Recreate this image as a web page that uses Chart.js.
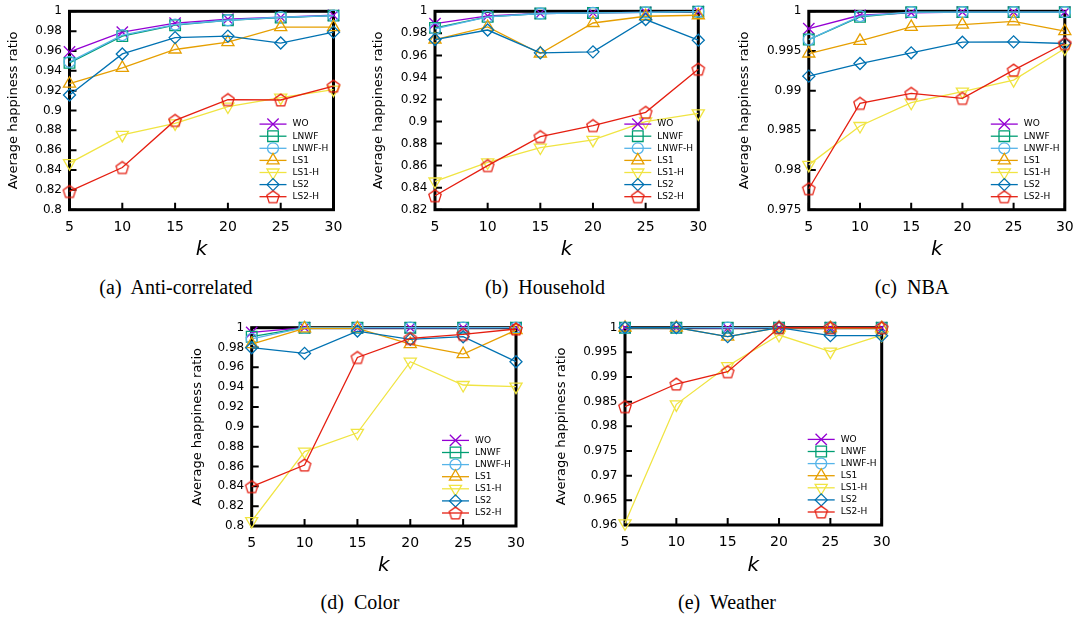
<!DOCTYPE html>
<html>
<head>
<meta charset="utf-8">
<script src="https://cdn.jsdelivr.net/npm/chart.js@4.4.1/dist/chart.umd.min.js"></script>
<style>
html, body { margin:0; padding:0; background:#fff; overflow:hidden; }
body { position:relative; width:1077px; height:621px; }
.panel { position:absolute; }
.cap { position:absolute; font-family:"Liberation Serif","Times New Roman",serif; font-size:20px; line-height:23px; color:#000; white-space:pre; transform:translateX(-50%); }
</style>
</head>
<body>
<canvas id="anti" class="panel"></canvas>
<canvas id="household" class="panel"></canvas>
<canvas id="nba" class="panel"></canvas>
<canvas id="color" class="panel"></canvas>
<canvas id="weather" class="panel"></canvas>
<div class="cap" style="left:176px;top:276px">(a)  Anti-correlated</div>
<div class="cap" style="left:545px;top:276px">(b)  Household</div>
<div class="cap" style="left:912px;top:276px">(c)  NBA</div>
<div class="cap" style="left:360px;top:591px">(d)  Color</div>
<div class="cap" style="left:727px;top:591px">(e)  Weather</div>
<script>
const kValues = [5, 10, 15, 20, 25, 30];
const seriesNames = ['WO', 'LNWF', 'LNWF-H', 'LS1', 'LS1-H', 'LS2', 'LS2-H'];

// (a) Anti-correlated
const antiWO    = [0.959, 0.979, 0.988, 0.992, 0.994, 0.996];
const antiLNWF  = [0.948, 0.975, 0.986, 0.991, 0.9936, 0.9956];
const antiLNWFH = [0.949, 0.976, 0.9866, 0.991, 0.994, 0.9956];
const antiLS1   = [0.927, 0.943, 0.9615, 0.969, 0.984, 0.984];
const antiLS1H  = [0.847, 0.8754, 0.887, 0.904, 0.913, 0.921];
const antiLS2   = [0.9156, 0.957, 0.9735, 0.975, 0.968, 0.979];
const antiLS2H  = [0.8184, 0.8425, 0.890, 0.911, 0.9106, 0.9246];
const antiTicks = ['0.8', '0.82', '0.84', '0.86', '0.88', '0.9', '0.92', '0.94', '0.96', '0.98', '1'];

// (b) Household
const houseWO    = [0.9888, 0.9958, 0.998, 0.9985, 0.999, 0.9997];
const houseLNWF  = [0.985, 0.995, 0.998, 0.9985, 0.999, 0.9997];
const houseLNWFH = [0.984, 0.995, 0.998, 0.9985, 0.999, 0.9997];
const houseLS1   = [0.9744, 0.9858, 0.9617, 0.9894, 0.9955, 0.9964];
const houseLS1H  = [0.8456, 0.863, 0.8764, 0.8833, 0.900, 0.9074];
const houseLS2   = [0.9744, 0.983, 0.9623, 0.9632, 0.9925, 0.9738];
const houseLS2H  = [0.8327, 0.860, 0.8863, 0.8963, 0.9083, 0.9475];
const houseTicks = ['0.82', '0.84', '0.86', '0.88', '0.9', '0.92', '0.94', '0.96', '0.98', '1'];

// (c) NBA
const nbaWO    = [0.99782, 0.9995, 0.9998, 0.9999, 0.9999, 0.9999];
const nbaLNWF  = [0.99644, 0.9993, 0.9999, 0.9999, 0.9999, 0.9999];
const nbaLNWFH = [0.99644, 0.9994, 0.9999, 0.9999, 0.9999, 0.9999];
const nbaLS1   = [0.99468, 0.99627, 0.99803, 0.99832, 0.99874, 0.99749];
const nbaLS1H  = [0.98065, 0.98555, 0.98848, 0.98987, 0.99133, 0.99531];
const nbaLS2   = [0.99183, 0.99342, 0.99477, 0.99611, 0.99615, 0.99594];
const nbaLS2H  = [0.97764, 0.9884, 0.98966, 0.98903, 0.99259, 0.99594];
const nbaTicks = ['0.975', '0.98', '0.985', '0.99', '0.995', '1'];

// (d) Color
const colorWO    = [0.9953, 1, 0.9999, 0.9999, 0.9999, 1];
const colorLNWF  = [0.9909, 1, 1, 1, 1, 1];
const colorLNWFH = [0.9887, 1, 1, 1, 1, 1];
const colorLS1   = [0.9835, 0.9993, 0.9993, 0.9835, 0.9734, 0.9976];
const colorLS1H  = [0.805, 0.875, 0.894, 0.9657, 0.9422, 0.9405];
const colorLS2   = [0.9798, 0.9741, 0.9966, 0.9882, 0.9909, 0.9657];
const colorLS2H  = [0.8397, 0.8615, 0.970, 0.9892, 0.9933, 0.9987];
const colorTicks = ['0.8', '0.82', '0.84', '0.86', '0.88', '0.9', '0.92', '0.94', '0.96', '0.98', '1'];

// (e) Weather
const weatherWO    = [1, 1, 0.9999, 1, 1, 1];
const weatherLNWF  = [1, 1, 1, 1, 1, 1];
const weatherLNWFH = [1, 1, 1, 1, 1, 1];
const weatherLS1   = [1, 1, 0.99818, 1, 0.9999, 0.9999];
const weatherLS1H  = [0.96034, 0.98446, 0.99223, 0.99851, 0.99514, 0.99851];
const weatherLS2   = [1, 1, 0.99818, 1, 0.99838, 0.99838];
const weatherLS2H  = [0.98399, 0.98858, 0.99108, 1, 1, 1];
const weatherTicks = ['0.96', '0.965', '0.97', '0.975', '0.98', '0.985', '0.99', '0.995', '1'];

const lineColors = ['#9400d3', '#009e73', '#56b4e9', '#e69f00', '#f0e442', '#0072b2', '#e51e10'];

function pentagon(color) {
    const c = document.createElement('canvas');
    c.width = 16; c.height = 16;
    const g = c.getContext('2d');
    g.strokeStyle = color;
    g.lineWidth = 1.3;
    g.beginPath();
    for (let i = 0; i < 5; i++) {
        const a = -Math.PI / 2 + i * 2 * Math.PI / 5;
        const px = 8 + 6.5 * Math.cos(a), py = 8.6 + 6.5 * Math.sin(a);
        if (i === 0) g.moveTo(px, py); else g.lineTo(px, py);
    }
    g.closePath();
    g.stroke();
    return c;
}

const markers = [
    {style: 'crossRot', r: 8, rot: 0},
    {style: 'rect', r: 7.5, rot: 0},
    {style: 'circle', r: 5.5, rot: 0},
    {style: 'triangle', r: 7, rot: 0},
    {style: 'triangle', r: 7, rot: 180},
    {style: 'rectRot', r: 6, rot: 0},
    {style: pentagon('#e51e10'), r: 6, rot: 0}
];

// box around the plot, frame ticks drawn inward like gnuplot
const framePlugin = {
    id: 'frame',
    beforeDatasetsDraw(chart) {
        const {ctx, chartArea: a, scales: {x, y}} = chart;
        ctx.save();
        ctx.strokeStyle = '#000';
        ctx.lineWidth = 2;
        ctx.beginPath();
        x.ticks.forEach(t => {
            const px = x.getPixelForValue(t.value);
            ctx.moveTo(px, a.bottom); ctx.lineTo(px, a.bottom - 7);
        });
        y.ticks.forEach(t => {
            const py = y.getPixelForValue(t.value);
            ctx.moveTo(a.left, py); ctx.lineTo(a.left + 7, py);
        });
        ctx.stroke();
        ctx.lineWidth = 3;
        ctx.strokeRect(a.left, a.top, a.right - a.left, a.bottom - a.top);
        ctx.restore();
    }
};

// key in the lower right corner of the plot
const keyPlugin = {
    id: 'key',
    afterDatasetsDraw(chart) {
        const {ctx, chartArea: a} = chart;
        const sets = chart.data.datasets;
        ctx.save();
        ctx.font = '9px "DejaVu Sans"';
        ctx.textBaseline = 'middle';
        sets.forEach((ds, i) => {
            const yy = a.bottom - 13 - (sets.length - 1 - i) * 12.1;
            ctx.strokeStyle = ds.borderColor;
            ctx.lineWidth = ds.borderWidth;
            ctx.beginPath();
            ctx.moveTo(a.right - 74, yy);
            ctx.lineTo(a.right - 47, yy);
            ctx.stroke();
            ctx.fillStyle = 'rgba(0,0,0,0)';
            ctx.lineWidth = ds.pointBorderWidth;
            Chart.helpers.drawPoint(ctx, {
                pointStyle: ds.pointStyle, rotation: ds.pointRotation,
                radius: ds.pointRadius, borderWidth: ds.pointBorderWidth
            }, a.right - 60.5, yy);
            ctx.fillStyle = '#000';
            ctx.fillText(ds.label, a.right - 41, yy);
        });
        ctx.restore();
    }
};

function zeroPad(s) {
    s.paddingLeft = 0; s.paddingRight = 0; s.paddingTop = 0; s.paddingBottom = 0;
}

function buildPanel(id, box, plot, yTicks, series) {
    const cv = document.getElementById(id);
    cv.style.left = box.left + 'px';
    cv.style.top = box.top + 'px';
    cv.width = box.width;
    cv.height = box.height;
    const tickVals = yTicks.map(Number);

    const datasets = series.map((vals, i) => ({
        label: seriesNames[i],
        data: kValues.map((k, j) => ({x: k, y: vals[j]})),
        borderColor: lineColors[i],
        backgroundColor: 'rgba(0,0,0,0)',
        borderWidth: 1.3,
        pointStyle: markers[i].style,
        pointRadius: markers[i].r,
        pointHoverRadius: markers[i].r,
        pointRotation: markers[i].rot,
        pointBorderWidth: 1.3,
        pointBorderColor: lineColors[i],
        pointBackgroundColor: 'rgba(0,0,0,0)',
        tension: 0,
        clip: false,
        order: series.length - i
    }));

    return new Chart(cv, {
        type: 'line',
        data: {datasets: datasets},
        options: {
            responsive: false,
            animation: false,
            events: [],
            layout: {padding: {left: 0, top: plot.T - box.top, right: box.left + box.width - plot.R, bottom: 0}},
            plugins: {legend: {display: false}, tooltip: {enabled: false}},
            scales: {
                x: {
                    type: 'linear', min: 5, max: 30,
                    grid: {display: false, drawTicks: false},
                    border: {display: false},
                    ticks: {font: {family: 'DejaVu Sans', size: 14}, color: '#000', padding: 9.4, maxRotation: 0},
                    afterBuildTicks: s => { s.ticks = kValues.map(v => ({value: v})); },
                    afterFit: s => { s.height = box.top + box.height - plot.B; zeroPad(s); },
                    title: {display: true, text: 'k', color: '#000', padding: 0,
                            font: {family: 'DejaVu Sans', size: 20, style: 'italic', weight: 'normal'}}
                },
                y: {
                    type: 'linear', min: tickVals[0], max: tickVals[tickVals.length - 1],
                    grid: {display: false, drawTicks: false},
                    border: {display: false},
                    ticks: {font: {family: 'DejaVu Sans', size: 12}, color: '#000', padding: 7.5,
                            callback: (v, i) => yTicks[i]},
                    afterBuildTicks: s => { s.ticks = tickVals.map(v => ({value: v})); },
                    afterFit: s => { s.width = plot.L - box.left; zeroPad(s); },
                    title: {display: true, text: 'Average happiness ratio', color: '#000',
                            padding: {top: 6.2, bottom: 0},
                            font: {family: 'DejaVu Sans', size: 13, weight: 'normal'}}
                }
            }
        },
        plugins: [framePlugin, keyPlugin]
    });
}

buildPanel('anti', {left: 0, top: 0, width: 354, height: 262},
    {L: 69.5, R: 333.5, T: 11.3, B: 209.7}, antiTicks,
    [antiWO, antiLNWF, antiLNWFH, antiLS1, antiLS1H, antiLS2, antiLS2H]);

buildPanel('household', {left: 365, top: 0, width: 354, height: 262},
    {L: 435, R: 698.3, T: 11.3, B: 209.7}, houseTicks,
    [houseWO, houseLNWF, houseLNWFH, houseLS1, houseLS1H, houseLS2, houseLS2H]);

buildPanel('nba', {left: 731, top: 0, width: 346, height: 262},
    {L: 808.8, R: 1064.8, T: 11.3, B: 209.7}, nbaTicks,
    [nbaWO, nbaLNWF, nbaLNWFH, nbaLS1, nbaLS1H, nbaLS2, nbaLS2H]);

buildPanel('color', {left: 184, top: 316, width: 354, height: 262},
    {L: 251.7, R: 516, T: 327.7, B: 526}, colorTicks,
    [colorWO, colorLNWF, colorLNWFH, colorLS1, colorLS1H, colorLS2, colorLS2H]);

buildPanel('weather', {left: 548, top: 316, width: 354, height: 262},
    {L: 625, R: 881.7, T: 327.7, B: 525}, weatherTicks,
    [weatherWO, weatherLNWF, weatherLNWFH, weatherLS1, weatherLS1H, weatherLS2, weatherLS2H]);
</script>
</body>
</html>
